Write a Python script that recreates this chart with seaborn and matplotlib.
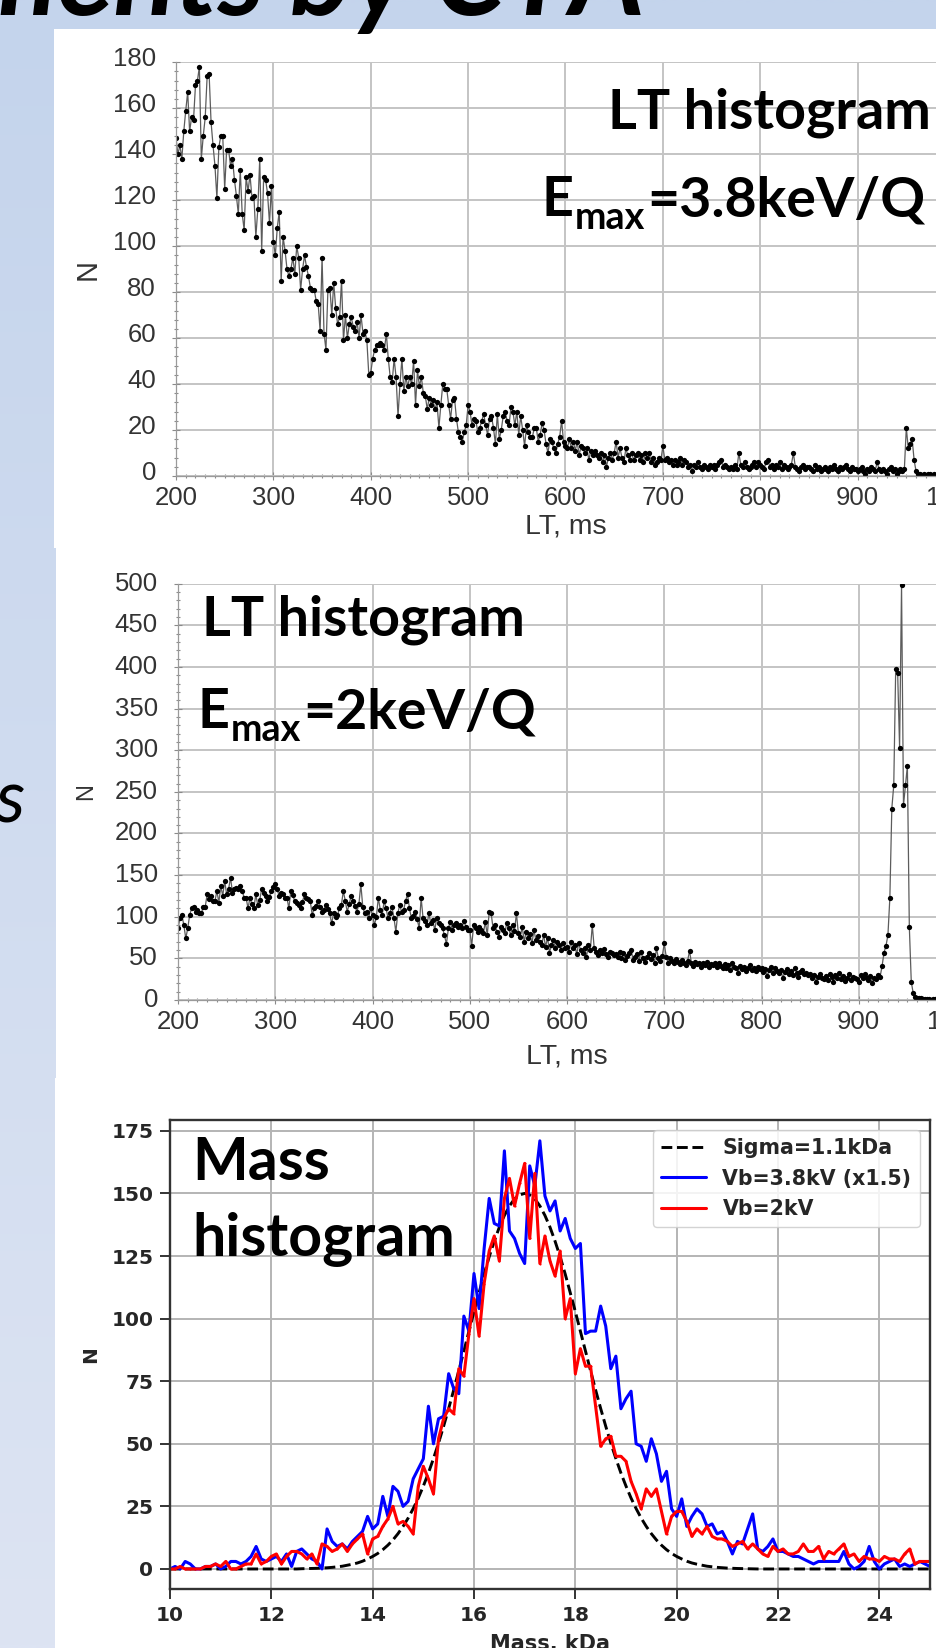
import numpy as np
import matplotlib
matplotlib.use("Agg")
import matplotlib.pyplot as plt
import seaborn as sns
from matplotlib.patches import Rectangle
from matplotlib.ticker import MultipleLocator
from matplotlib.transforms import ScaledTranslation

# ---------------------------------------------------------------- data
# lifetime histograms, 2 ms bins from 200 ms
lt_ms = list(range(200, 1000, 2))

n_emax_38 = [
    147, 140, 144, 138, 150, 159, 167, 150, 156, 155, 170, 172, 178, 138, 148, 156, 174, 175, 154, 144, 135, 121, 143, 148, 148,
    125, 142, 142, 135, 138, 129, 122, 114, 133, 114, 107, 130, 124, 131, 121, 122, 104, 116, 138, 98, 130, 129, 123, 110, 126,
    102, 96, 108, 115, 85, 104, 98, 90, 87, 90, 95, 88, 100, 95, 81, 90, 96, 91, 87, 82, 81, 81, 76, 75, 63,
    95, 62, 55, 81, 82, 70, 84, 73, 66, 69, 85, 59, 70, 60, 66, 69, 65, 63, 67, 60, 70, 62, 63, 59, 44,
    45, 51, 55, 57, 57, 58, 57, 55, 62, 51, 43, 41, 51, 43, 26, 40, 51, 37, 43, 39, 43, 40, 50, 31, 46,
    39, 43, 36, 35, 29, 34, 31, 33, 29, 32, 21, 31, 40, 38, 38, 31, 25, 33, 34, 25, 19, 17, 15, 19, 22,
    31, 28, 22, 25, 24, 19, 21, 24, 27, 22, 18, 25, 26, 21, 14, 27, 16, 20, 26, 28, 24, 22, 30, 28, 22,
    28, 18, 26, 20, 13, 22, 19, 17, 17, 21, 21, 15, 18, 23, 20, 14, 10, 16, 15, 12, 10, 14, 17, 24, 15,
    13, 12, 16, 12, 15, 11, 15, 9, 13, 12, 10, 12, 7, 11, 9, 11, 9, 8, 10, 6, 9, 4, 8, 10, 7,
    10, 15, 8, 12, 8, 6, 12, 9, 7, 10, 7, 9, 10, 7, 9, 6, 10, 8, 10, 6, 8, 5, 6, 8, 7,
    13, 7, 8, 6, 7, 5, 7, 5, 6, 8, 5, 7, 6, 4, 5, 2, 5, 4, 6, 4, 3, 5, 4, 3, 5,
    4, 5, 3, 5, 6, 7, 4, 5, 4, 3, 4, 3, 5, 3, 10, 5, 4, 6, 4, 3, 4, 5, 6, 4, 6,
    5, 4, 3, 6, 7, 4, 5, 3, 5, 4, 6, 3, 5, 4, 3, 4, 5, 10, 4, 3, 2, 4, 5, 3, 4,
    4, 3, 2, 5, 3, 4, 2, 3, 4, 3, 2, 4, 3, 5, 3, 2, 4, 3, 4, 5, 3, 2, 4, 3, 3,
    2, 3, 4, 2, 1, 3, 2, 4, 3, 2, 6, 3, 2, 3, 2, 1, 3, 4, 2, 3, 1, 2, 3, 2, 3,
    21, 12, 14, 16, 7, 2, 1, 1, 0, 1, 0, 1, 1, 0, 1, 0, 0, 1, 0, 1, 0, 0, 1, 0, 0,
]

n_emax_2 = [
    86, 98, 102, 90, 74, 86, 102, 110, 112, 106, 108, 104, 104, 112, 112, 127, 121, 125, 119, 119, 131, 117, 137, 125, 143,
    127, 133, 147, 129, 133, 135, 133, 137, 131, 123, 123, 110, 123, 115, 110, 127, 114, 120, 133, 128, 125, 119, 124, 131, 136,
    139, 133, 125, 128, 127, 123, 123, 110, 131, 126, 119, 116, 114, 110, 118, 127, 123, 121, 119, 102, 110, 113, 119, 112, 106,
    108, 114, 109, 104, 92, 104, 100, 102, 110, 114, 131, 119, 106, 115, 125, 119, 113, 106, 115, 139, 112, 104, 106, 98, 110,
    102, 90, 100, 123, 108, 102, 119, 110, 98, 105, 112, 99, 82, 104, 114, 106, 108, 119, 127, 110, 98, 101, 106, 97, 86,
    123, 98, 95, 90, 104, 92, 96, 84, 98, 93, 90, 86, 78, 67, 86, 94, 84, 90, 92, 88, 90, 86, 95, 88, 84,
    84, 65, 90, 86, 82, 88, 84, 80, 94, 78, 106, 104, 86, 90, 82, 76, 88, 84, 80, 92, 86, 78, 90, 83, 104,
    80, 76, 88, 70, 82, 74, 79, 68, 84, 72, 77, 70, 66, 78, 64, 75, 57, 66, 72, 62, 70, 66, 60, 68, 63,
    64, 58, 70, 62, 66, 55, 68, 60, 57, 63, 52, 66, 60, 90, 62, 58, 54, 60, 56, 61, 55, 52, 58, 56, 54,
    55, 52, 58, 50, 56, 48, 53, 57, 60, 48, 52, 55, 47, 58, 50, 46, 52, 56, 49, 54, 45, 62, 50, 47, 53,
    68, 52, 45, 50, 47, 44, 49, 46, 43, 48, 44, 42, 47, 59, 44, 41, 46, 43, 45, 40, 44, 42, 46, 40, 43,
    42, 45, 40, 44, 41, 38, 43, 39, 42, 36, 44, 40, 38, 33, 41, 37, 40, 35, 39, 42, 36, 38, 35, 40, 37,
    39, 34, 37, 29, 36, 40, 33, 38, 35, 32, 36, 26, 34, 37, 31, 35, 30, 38, 33, 28, 34, 36, 31, 33, 30,
    31, 26, 30, 22, 28, 31, 27, 25, 29, 24, 31, 28, 22, 30, 26, 33, 25, 29, 23, 27, 31, 24, 28, 26, 25,
    22, 30, 26, 31, 27, 24, 29, 20, 27, 25, 30, 28, 41, 57, 65, 78, 123, 230, 258, 398, 393, 303, 498, 234, 258,
    281, 88, 22, 8, 4, 3, 2, 2, 1, 1, 1, 1, 0, 1, 1, 0, 1, 0, 0, 1, 0, 0, 1, 0, 0,
]

lt_xticks = [200, 300, 400, 500, 600, 700, 800, 900, 1000]
lt1_yticks = [0, 20, 40, 60, 80, 100, 120, 140, 160, 180]
lt2_yticks = [0, 50, 100, 150, 200, 250, 300, 350, 400, 450, 500]

# mass histograms, 0.1 kDa bins from 10 to 25 kDa
mass_kda = [round(10 + 0.1 * i, 1) for i in range(151)]

n_fit_sigma = [
    0, 0, 0, 0, 0, 0, 0, 0, 0, 0, 0, 0, 0, 0, 0, 0, 0, 0, 0, 0, 0, 0, 0, 0, 0, 0,
    0.1, 0.14, 0.19, 0.26, 0.35, 0.48, 0.64, 0.85, 1.1, 1.5, 1.9, 2.4, 3.1, 4.0, 5.0,
    6.2, 7.7, 9.5, 11.6, 14.1, 17.0, 20.3, 24.1, 28.3, 33.1, 38.3, 44.1, 50.3, 57.0, 64.1,
    71.5, 79.2, 87.0, 94.9, 102.8, 110.3, 117.8, 124.7, 130.9, 136.5, 141.2, 145.0, 147.8, 149.4, 150.0,
    149.4, 147.8, 145.0, 141.2, 136.5, 130.9, 124.7, 117.8, 110.3, 102.8, 94.9, 87.0, 79.2, 71.5, 64.1,
    57.0, 50.3, 44.1, 38.3, 33.1, 28.3, 24.1, 20.3, 17.0, 14.1, 11.6, 9.5, 7.7, 6.2, 5.0,
    4.0, 3.1, 2.4, 1.9, 1.5, 1.1, 0.85, 0.64, 0.48, 0.35, 0.26, 0.19, 0.14, 0.1,
    0, 0, 0, 0, 0, 0, 0, 0, 0, 0, 0, 0, 0, 0, 0, 0, 0, 0, 0, 0, 0, 0, 0, 0, 0, 0, 0, 0, 0, 0, 0, 0, 0, 0, 0, 0,
]

n_vb_38 = [
    0, 1, 0, 3, 2, 0, 0, 1, 1, 2,
    0, 1, 3, 3, 2, 3, 5, 9, 4, 3,
    4, 5, 3, 6, 1, 7, 8, 6, 4, 3,
    0, 16, 11, 9, 10, 8, 11, 13, 15, 21,
    16, 18, 29, 21, 33, 31, 25, 27, 36, 40,
    44, 65, 50, 60, 61, 78, 72, 70, 101, 95,
    118, 104, 128, 148, 138, 137, 167, 135, 132, 126,
    122, 161, 153, 171, 149, 143, 147, 135, 140, 132,
    128, 130, 94, 95, 95, 105, 97, 80, 85, 64,
    68, 71, 50, 49, 43, 52, 46, 35, 39, 24,
    21, 28, 17, 21, 24, 22, 17, 18, 14, 15,
    11, 6, 11, 10, 16, 22, 8, 7, 9, 12,
    7, 7, 6, 5, 5, 4, 3, 2, 3, 3,
    3, 3, 3, 7, 2, 0, 1, 3, 9, 3,
    0, 2, 3, 4, 1, 2, 1, 2, 3, 2,
    1,
]

n_vb_2 = [
    0, 0, 1, 0, 0, 0, 0, 1, 1, 2,
    1, 3, 0, 0, 1, 2, 2, 6, 2, 3,
    5, 6, 2, 5, 7, 7, 6, 4, 6, 2,
    10, 9, 7, 8, 10, 7, 10, 12, 14, 6,
    12, 13, 17, 20, 25, 18, 19, 17, 14, 33,
    41, 36, 30, 52, 60, 64, 62, 80, 77, 94,
    108, 93, 114, 127, 133, 123, 148, 156, 145, 154,
    162, 132, 158, 122, 133, 123, 117, 127, 100, 108,
    78, 88, 81, 81, 65, 49, 52, 53, 45, 45,
    43, 35, 30, 24, 32, 29, 32, 23, 14, 21,
    23, 23, 19, 13, 16, 14, 17, 13, 12, 12,
    11, 9, 10, 11, 8, 10, 8, 6, 5, 9,
    7, 8, 6, 6, 7, 10, 7, 7, 9, 4,
    7, 6, 8, 10, 5, 6, 3, 5, 4, 4,
    3, 5, 4, 4, 3, 6, 8, 2, 3, 3,
    3,
]

mass_xticks = [10, 12, 14, 16, 18, 20, 22, 24]
mass_yticks = [0, 25, 50, 75, 100, 125, 150, 175]
legend_labels = ["Sigma=1.1kDa", "Vb=3.8kV (x1.5)", "Vb=2kV"]

# ---------------------------------------------------------------- style
sns.set_theme(style="white")
plt.rcParams["font.family"] = ["DejaVu Sans"]

W, H = 937, 1648
fig = plt.figure(figsize=(W / 100, H / 100), dpi=100)


def fx(px):
    return px / W


def fy(py):
    return 1 - py / H


# slide background
bg = fig.add_axes([0, 0, 1, 1], zorder=-5)
top_c = np.array([196, 212, 236]) / 255
bot_c = np.array([221, 228, 243]) / 255
t = np.linspace(0, 1, 256)[:, None, None]
grad = top_c * (1 - t) + bot_c * t
bg.imshow(grad, extent=[0, W, H, 0], aspect="auto", interpolation="bilinear")
bg.add_patch(Rectangle((54, 29), W - 54, 548 - 29, fc="white", ec="none"))
bg.add_patch(Rectangle((56, 548), W - 56, 1078 - 548, fc="white", ec="none"))
bg.add_patch(Rectangle((55, 1078), W - 55, H - 1078, fc="white", ec="none"))
bg.set_xlim(0, W)
bg.set_ylim(H, 0)
bg.axis("off")
title = bg.text(645, 15, "ments by CTA", ha="right", va="baseline", fontsize=83,
                fontweight="bold", fontstyle="italic", family=["Lato", "DejaVu Sans"],
                color="black")
title.set_clip_path(Rectangle((0, 0), W, 28, transform=bg.transData))
bg.text(25, 822, "s", ha="right", va="baseline", fontsize=53,
        fontstyle="italic", family=["Lato", "DejaVu Sans"], color="black")


def style_lt(ax, ymax, yticks, yminor, label_shift_px, nsize):
    ax.set_facecolor("white")
    ax.set_xlim(200, 1000)
    ax.set_ylim(0, ymax)
    ax.set_xticks(lt_xticks)
    ax.set_yticks(yticks)
    ax.xaxis.set_minor_locator(MultipleLocator(10))
    ax.yaxis.set_minor_locator(MultipleLocator(yminor))
    ax.grid(True, which="major", color="#c4c4c4", linewidth=1.4)
    ax.set_axisbelow(True)
    for s in ["top", "right"]:
        ax.spines[s].set_visible(False)
    for s in ["left", "bottom"]:
        ax.spines[s].set_color("#9a9a9a")
        ax.spines[s].set_linewidth(0.9)
    ax.tick_params(which="both", direction="inout", color="#8a8a8a", width=0.8,
                   left=True, bottom=True)
    ax.tick_params(which="major", length=6, labelsize=18.5, labelcolor="#333333",
                   labelfontfamily="Liberation Sans")
    ax.tick_params(which="minor", length=3.5)
    ax.tick_params(axis="y", which="major", pad=11.4)
    ax.tick_params(axis="x", which="major", pad=4.3)
    ax.set_xlabel("LT, ms", fontsize=20.5, color="#333333", family="Liberation Sans")
    ax.set_ylabel("N", fontsize=nsize, color="#333333", family="Liberation Sans")
    shift = ScaledTranslation(0, label_shift_px / 100, fig.dpi_scale_trans)
    for lab in ax.get_yticklabels():
        lab.set_transform(lab.get_transform() + shift)


# ---------------------------------------------------------------- panel 1
ax1 = fig.add_axes([fx(176), fy(476.0), fx(955 - 176), (476.0 - 62.3) / H])
sns.lineplot(x=lt_ms, y=n_emax_38, ax=ax1, errorbar=None, color="#5c5c5c", linewidth=0.9,
             marker="o", markersize=3.8, markerfacecolor="black", markeredgecolor="black",
             markeredgewidth=0)
style_lt(ax1, 180, lt1_yticks, 4, 6, 21)
ax1.xaxis.set_label_coords(0.5, -0.122)
ax1.xaxis.label.set_va("center")
ax1.yaxis.set_label_coords(-0.113, 0.5)
ax1.yaxis.label.set_va("center")

# ---------------------------------------------------------------- panel 2
ax2 = fig.add_axes([fx(178), fy(1000.0), fx(956 - 178), (1000.0 - 583.7) / H])
sns.lineplot(x=lt_ms, y=n_emax_2, ax=ax2, errorbar=None, color="#5c5c5c", linewidth=0.9,
             marker="o", markersize=3.8, markerfacecolor="black", markeredgecolor="black",
             markeredgewidth=0)
style_lt(ax2, 500, lt2_yticks, 10, 2.5, 17)
ax2.xaxis.set_label_coords(0.5, -0.135)
ax2.xaxis.label.set_va("center")
ax2.yaxis.set_label_coords(-0.118, 0.5)
ax2.yaxis.label.set_va("center")

# ---------------------------------------------------------------- panel 3
ax3 = fig.add_axes([fx(170), fy(1589), fx(930 - 170), (1589 - 1119.8) / H])
ax3.set_facecolor("white")
sns.lineplot(x=mass_kda, y=n_fit_sigma, ax=ax3, errorbar=None, color="black",
             linestyle="--", linewidth=2.1, label=legend_labels[0])
sns.lineplot(x=mass_kda, y=n_vb_38, ax=ax3, errorbar=None, color="#0000ff",
             linewidth=2.2, label=legend_labels[1])
sns.lineplot(x=mass_kda, y=n_vb_2, ax=ax3, errorbar=None, color="#ff0000",
             linewidth=2.2, marker=".", markersize=3, markeredgewidth=0,
             label=legend_labels[2])
ax3.set_xlim(10, 25)
ax3.set_ylim(-8.0, 179.4)
ax3.set_xticks(mass_xticks)
ax3.set_yticks(mass_yticks)
ax3.grid(True, color="#b4b4b4", linewidth=1.4)
ax3.set_axisbelow(True)
for s in ax3.spines.values():
    s.set_visible(True)
    s.set_color("#333333")
    s.set_linewidth(1.7)
ax3.tick_params(direction="out", length=7, width=1.4, color="#333333",
                labelsize=14.5, labelcolor="#262626", pad=5, left=True, bottom=True)
for lab in ax3.get_xticklabels() + ax3.get_yticklabels():
    lab.set_fontweight("bold")
ax3.set_xlabel("Mass, kDa", fontsize=15, color="#262626", fontweight="bold")
ax3.set_ylabel("N", fontsize=14.5, color="#262626", fontweight="bold")
ax3.xaxis.set_label_coords(0.5, -0.096)
ax3.xaxis.label.set_va("top")
ax3.yaxis.set_label_coords(-0.105, 0.5)
ax3.yaxis.label.set_va("center")
leg = ax3.legend(loc="upper right", prop={"size": 14.8, "weight": "bold"}, frameon=True,
                 framealpha=0.85, edgecolor="#cccccc", fancybox=True, borderaxespad=0.5,
                 handlelength=2.2)
for txt in leg.get_texts():
    txt.set_color("#262626")

# ---------------------------------------------------------------- annotations
ann = dict(fontweight="bold", family=["Lato", "DejaVu Sans"], color="black",
           ha="left", va="baseline", zorder=10)
fig.text(fx(608), fy(128), "LT histogram", fontsize=40, **ann)
fig.text(fx(202), fy(636), "LT histogram", fontsize=40, **ann)
fig.text(fx(192), fy(1180), "Mass", fontsize=42.5, **ann)
fig.text(fx(192), fy(1256), "histogram", fontsize=42.5, **ann)

renderer = fig.canvas.get_renderer()


def e_max_label(x_px, y_px, rest, size):
    t_e = fig.text(fx(x_px), fy(y_px), "E", fontsize=size, **ann)
    w_e = t_e.get_window_extent(renderer).width
    sub_size = size * 0.68
    drop = size * 100 / 72 * 0.24
    t_s = fig.text(fx(x_px + w_e + 1), fy(y_px + drop), "max", fontsize=sub_size, **ann)
    w_s = t_s.get_window_extent(renderer).width
    fig.text(fx(x_px + w_e + w_s + 3), fy(y_px), rest, fontsize=size, **ann)


e_max_label(542, 216, "=3.8keV/Q", 40)
e_max_label(198, 728, "=2keV/Q", 40)

fig.savefig("out.png", dpi=100)
